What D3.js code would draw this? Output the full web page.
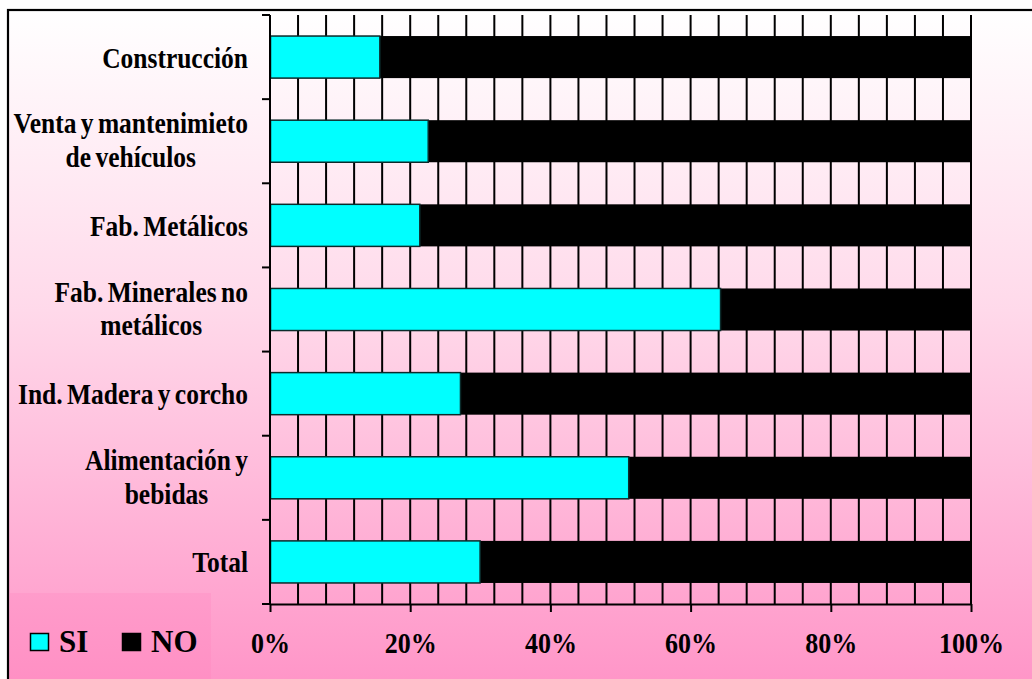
<!DOCTYPE html>
<html>
<head>
<meta charset="utf-8">
<script src="https://cdn.jsdelivr.net/npm/d3@7"></script>
<style>
  html, body { margin: 0; padding: 0; background: #ffffff; }
  svg { display: block; }
  text { font-family: "Liberation Serif", "Times New Roman", serif; font-weight: bold; fill: #000; }
</style>
</head>
<body>
<svg id="chart" width="1032" height="679"></svg>
<script>
// ---- data ----
const categories = [
  ["Construcción"],
  ["Venta y mantenimieto", "de vehículos"],
  ["Fab. Metálicos"],
  ["Fab. Minerales no", "metálicos"],
  ["Ind. Madera y corcho"],
  ["Alimentación y", "bebidas"],
  ["Total"]
];
const siValues = [15.6, 22.5, 21.3, 64.2, 27.1, 51.1, 29.9];
const noValues = siValues.map(v => 100 - v);
const xTickValues = [0, 20, 40, 60, 80, 100];
const gridValues = d3.range(0, 101, 4);
const seriesNames = ["SI", "NO"];
const seriesColors = ["#00FFFF", "#000000"];

// ---- layout ----
const svg = d3.select("#chart");
const W = 1032, H = 679;
const plot = { left: 270, right: 971, top: 15, bottom: 604 };

const defs = svg.append("defs");
const bg = defs.append("linearGradient").attr("id", "bgGrad")
  .attr("gradientUnits", "userSpaceOnUse")
  .attr("x1", 0).attr("y1", 10).attr("x2", 0).attr("y2", 679);
bg.append("stop").attr("offset", "0").attr("stop-color", "#FFFFFF");
bg.append("stop").attr("offset", "0.45").attr("stop-color", "#FFD9EA");
bg.append("stop").attr("offset", "1").attr("stop-color", "#FF96C8");

const lg = defs.append("linearGradient").attr("id", "legGrad")
  .attr("gradientUnits", "userSpaceOnUse")
  .attr("x1", 0).attr("y1", 593).attr("x2", 0).attr("y2", 679);
lg.append("stop").attr("offset", "0").attr("stop-color", "#FF9CCB");
lg.append("stop").attr("offset", "1").attr("stop-color", "#FF90C4");

// chart area background + border
svg.append("rect").attr("x", 8).attr("y", 10).attr("width", W).attr("height", H)
  .attr("fill", "url(#bgGrad)").attr("stroke", "#000").attr("stroke-width", 2.2);

const x = d3.scaleLinear().domain([0, 100]).range([plot.left, plot.right]);
const y = d3.scaleBand().domain(categories.map((c, i) => i))
  .range([plot.top, plot.bottom]).paddingInner(0.5).paddingOuter(0.25);

// vertical gridlines
svg.append("g").selectAll("line").data(gridValues).join("line")
  .attr("x1", d => x(d)).attr("x2", d => x(d))
  .attr("y1", plot.top).attr("y2", plot.bottom)
  .attr("stroke", "#000").attr("stroke-width", 2);

// bars
const stackData = categories.map((c, i) => ({ i, si: siValues[i], no: noValues[i] }));
const g = svg.append("g");
g.selectAll("rect.no").data(stackData).join("rect").attr("class", "no")
  .attr("x", d => x(d.si)).attr("y", d => y(d.i))
  .attr("width", d => x(100) - x(d.si)).attr("height", y.bandwidth())
  .attr("fill", seriesColors[1]);
g.selectAll("rect.si").data(stackData).join("rect").attr("class", "si")
  .attr("x", x(0) + 0.5).attr("y", d => y(d.i))
  .attr("width", d => x(d.si) - x(0)).attr("height", y.bandwidth())
  .attr("fill", seriesColors[0]).attr("stroke", "#0b2b2b").attr("stroke-width", 1.5);

// y axis line + ticks at band boundaries
const boundaries = d3.range(categories.length + 1).map(k => plot.top + k * (plot.bottom - plot.top) / categories.length);
svg.append("line").attr("x1", plot.left).attr("x2", plot.left)
  .attr("y1", plot.top).attr("y2", plot.bottom).attr("stroke", "#000").attr("stroke-width", 2);
svg.append("g").selectAll("line").data(boundaries).join("line")
  .attr("x1", plot.left - 8).attr("x2", plot.left)
  .attr("y1", d => d).attr("y2", d => d).attr("stroke", "#000").attr("stroke-width", 2);

// x axis
const xAxis = svg.append("g").attr("transform", `translate(0,${plot.bottom})`)
  .call(d3.axisBottom(x).tickValues(xTickValues).tickSize(8).tickSizeOuter(0).tickFormat(d => d + "%"));
xAxis.select(".domain").attr("stroke", "#000").attr("stroke-width", 2);
xAxis.selectAll(".tick line").attr("stroke", "#000").attr("stroke-width", 2);
xAxis.selectAll(".tick text").remove();
xAxis.selectAll(".tick").append("text")
  .attr("text-anchor", "middle")
  .attr("transform", "translate(0,49) scale(1,1.16)")
  .style("font-size", "26px")
  .text(d => d + "%");

// category labels
const labelRight = 248;
const labG = svg.append("g");
categories.forEach((lines, i) => {
  const cy = y(i) + y.bandwidth() / 2;
  const t = labG.append("text").style("font-size", "25.5px").style("word-spacing", "-2px");
  if (lines.length === 1) {
    t.attr("text-anchor", "end")
      .attr("transform", `translate(${labelRight},${cy + 10.5}) scale(1,1.18)`)
      .text(lines[0]);
  } else {
    const tmp = labG.append("text").style("font-size", "25.5px").style("word-spacing", "-2px").text(lines[0]);
    const w = tmp.node().getComputedTextLength();
    tmp.remove();
    const cx = labelRight - w / 2;
    t.attr("text-anchor", "middle")
      .attr("transform", `translate(${cx},${cy - 8}) scale(1,1.18)`);
    lines.forEach((ln, k) => {
      t.append("tspan").attr("x", 0).attr("y", k * 28.8).text(ln);
    });
  }
});

// legend
const leg = svg.append("g");
leg.append("rect").attr("x", 10).attr("y", 593).attr("width", 201).attr("height", 90)
  .attr("fill", "url(#legGrad)");
const legItems = [{ x: 30, tx: 59 }, { x: 122, tx: 151 }];
seriesNames.forEach((name, k) => {
  leg.append("rect").attr("x", legItems[k].x + 0.5).attr("y", 633.5).attr("width", 18).attr("height", 17)
    .attr("fill", seriesColors[k]).attr("stroke", "#000").attr("stroke-width", 1.5);
  leg.append("text").attr("x", legItems[k].tx).attr("y", 651.5)
    .style("font-size", "31px").text(name);
});
</script>
</body>
</html>
